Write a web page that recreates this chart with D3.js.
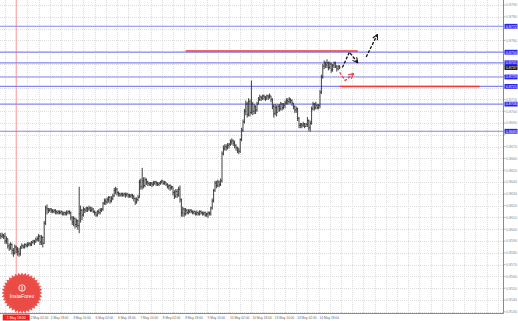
<!DOCTYPE html>
<html>
<head>
<meta charset="utf-8">
<script src="https://cdn.jsdelivr.net/npm/d3@7"></script>
<style>
  body { margin: 0; background: #fff; }
  svg { display: block; font-family: "Liberation Sans", Arial, sans-serif; }
</style>
</head>
<body>
<svg id="chart" width="518" height="321"></svg>
<script>
// EURGBP H1, bars from 1 May 07:00; open of each bar = previous close
var closes = [
  0.8594,0.8595,0.8594,0.8590,0.8592,0.8586,0.8584,0.8587,0.8582,0.8580,
  0.8585,0.8583,0.8581,0.8579,0.8584,0.8586,0.8585,0.8587,0.8586,0.8587,
  0.8588,0.8587,0.8589,0.8590,0.8589,0.8591,0.8592,0.8594,0.8589,0.8593,
  0.8588,0.8605,0.8618,0.8617,0.8616,0.8617,0.8616,0.8615,0.8616,0.8615,
  0.8614,0.8615,0.8614,0.8615,0.8613,0.8614,0.8613,0.8614,0.8615,0.8614,
  0.8610,0.8606,0.8609,0.8604,0.8607,0.8603,0.8613,0.8616,0.8612,0.8617,
  0.8616,0.8618,0.8617,0.8618,0.8616,0.8617,0.8615,0.8614,0.8612,0.8615,
  0.8614,0.8616,0.8617,0.8622,0.8624,0.8623,0.8625,0.8627,0.8624,0.8626,
  0.8628,0.8633,0.8634,0.8631,0.8630,0.8629,0.8630,0.8629,0.8630,0.8629,
  0.8630,0.8629,0.8628,0.8629,0.8628,0.8626,0.8623,0.8625,0.8627,0.8640,
  0.8636,0.8641,0.8637,0.8642,0.8640,0.8639,0.8638,0.8639,0.8638,0.8639,
  0.8640,0.8639,0.8638,0.8639,0.8640,0.8641,0.8639,0.8640,0.8638,0.8636,
  0.8637,0.8635,0.8636,0.8631,0.8628,0.8632,0.8629,0.8634,0.8625,0.8614,
  0.8617,0.8613,0.8616,0.8614,0.8615,0.8616,0.8615,0.8614,0.8615,0.8613,
  0.8614,0.8613,0.8615,0.8614,0.8613,0.8614,0.8612,0.8613,0.8614,0.8613,
  0.8618,0.8624,0.8633,0.8639,0.8637,0.8640,0.8638,0.8641,0.8664,0.8668,
  0.8670,0.8669,0.8671,0.8672,0.8674,0.8675,0.8673,0.8671,0.8669,0.8667,
  0.8666,0.8676,0.8684,0.8691,0.8700,0.8706,0.8697,0.8708,0.8699,0.8706,
  0.8700,0.8704,0.8701,0.8706,0.8710,0.8712,0.8711,0.8713,0.8712,0.8711,
  0.8713,0.8712,0.8713,0.8710,0.8704,0.8698,0.8703,0.8699,0.8704,0.8702,
  0.8706,0.8703,0.8705,0.8707,0.8709,0.8708,0.8710,0.8709,0.8707,0.8704,
  0.8701,0.8702,0.8694,0.8688,0.8689,0.8688,0.8689,0.8687,0.8689,0.8692,
  0.8686,0.8690,0.8702,0.8706,0.8703,0.8705,0.8703,0.8705,0.8716,0.8729,
  0.8738,0.8741,0.8739,0.8741,0.8737,0.8740,0.8735,0.8739,0.8741,0.8738,
  0.8736,0.8738,0.8737
];
var highs = [
  0.8597,0.8597,0.8596,0.8597,0.8594,0.8592,0.8588,0.8589,0.8588,0.8584,
  0.8587,0.8586,0.8585,0.8584,0.8586,0.8588,0.8587,0.8588,0.8588,0.8589,
  0.8589,0.8589,0.8590,0.8591,0.8591,0.8593,0.8594,0.8596,0.8595,0.8595,
  0.8594,0.8607,0.8620,0.8621,0.8618,0.8618,0.8618,0.8617,0.8617,0.8617,
  0.8616,0.8616,0.8616,0.8616,0.8615,0.8615,0.8615,0.8616,0.8616,0.8616,
  0.8615,0.8611,0.8611,0.8610,0.8609,0.8608,0.8636,0.8620,0.8617,0.8619,
  0.8618,0.8619,0.8619,0.8620,0.8619,0.8619,0.8618,0.8616,0.8615,0.8616,
  0.8617,0.8618,0.8618,0.8623,0.8626,0.8626,0.8627,0.8628,0.8628,0.8628,
  0.8630,0.8635,0.8636,0.8635,0.8632,0.8631,0.8631,0.8631,0.8631,0.8631,
  0.8631,0.8630,0.8630,0.8630,0.8630,0.8629,0.8627,0.8627,0.8629,0.8642,
  0.8643,0.8652,0.8644,0.8644,0.8643,0.8641,0.8640,0.8640,0.8640,0.8641,
  0.8641,0.8641,0.8640,0.8640,0.8641,0.8642,0.8641,0.8641,0.8640,0.8639,
  0.8638,0.8638,0.8637,0.8636,0.8633,0.8634,0.8634,0.8636,0.8637,0.8626,
  0.8619,0.8618,0.8618,0.8617,0.8617,0.8617,0.8617,0.8616,0.8616,0.8615,
  0.8616,0.8615,0.8616,0.8616,0.8615,0.8615,0.8615,0.8614,0.8615,0.8615,
  0.8619,0.8626,0.8634,0.8641,0.8641,0.8642,0.8641,0.8643,0.8666,0.8671,
  0.8672,0.8672,0.8673,0.8673,0.8676,0.8677,0.8676,0.8675,0.8672,0.8670,
  0.8669,0.8677,0.8686,0.8693,0.8702,0.8709,0.8708,0.8711,0.8710,0.8726,
  0.8708,0.8706,0.8705,0.8708,0.8712,0.8714,0.8713,0.8714,0.8714,0.8713,
  0.8714,0.8714,0.8715,0.8713,0.8711,0.8706,0.8706,0.8705,0.8706,0.8706,
  0.8708,0.8707,0.8707,0.8709,0.8711,0.8711,0.8712,0.8711,0.8710,0.8707,
  0.8705,0.8704,0.8703,0.8695,0.8690,0.8690,0.8691,0.8690,0.8690,0.8695,
  0.8693,0.8692,0.8704,0.8708,0.8707,0.8708,0.8706,0.8706,0.8718,0.8731,
  0.8740,0.8743,0.8742,0.8744,0.8742,0.8742,0.8741,0.8740,0.8742,0.8742,
  0.8739,0.8739,0.8739
];
var lows = [
  0.8592,0.8593,0.8592,0.8588,0.8588,0.8584,0.8582,0.8583,0.8579,0.8577,
  0.8579,0.8580,0.8578,0.8577,0.8578,0.8584,0.8584,0.8584,0.8585,0.8585,
  0.8586,0.8586,0.8586,0.8588,0.8587,0.8589,0.8590,0.8590,0.8587,0.8587,
  0.8585,0.8588,0.8604,0.8613,0.8614,0.8615,0.8614,0.8614,0.8614,0.8613,
  0.8613,0.8613,0.8613,0.8613,0.8612,0.8612,0.8612,0.8612,0.8613,0.8613,
  0.8608,0.8604,0.8603,0.8601,0.8602,0.8600,0.8597,0.8606,0.8608,0.8611,
  0.8614,0.8615,0.8615,0.8616,0.8615,0.8615,0.8614,0.8612,0.8611,0.8611,
  0.8613,0.8613,0.8615,0.8616,0.8621,0.8621,0.8622,0.8623,0.8622,0.8623,
  0.8625,0.8628,0.8630,0.8629,0.8628,0.8628,0.8628,0.8628,0.8628,0.8627,
  0.8628,0.8627,0.8627,0.8627,0.8626,0.8624,0.8621,0.8622,0.8624,0.8627,
  0.8634,0.8634,0.8635,0.8636,0.8638,0.8637,0.8637,0.8637,0.8636,0.8637,
  0.8638,0.8637,0.8637,0.8637,0.8638,0.8639,0.8638,0.8638,0.8637,0.8635,
  0.8634,0.8633,0.8634,0.8629,0.8626,0.8627,0.8627,0.8628,0.8623,0.8611,
  0.8611,0.8611,0.8612,0.8613,0.8613,0.8614,0.8614,0.8613,0.8613,0.8612,
  0.8612,0.8612,0.8612,0.8613,0.8612,0.8612,0.8611,0.8611,0.8610,0.8612,
  0.8612,0.8617,0.8623,0.8632,0.8635,0.8636,0.8636,0.8637,0.8640,0.8663,
  0.8667,0.8667,0.8668,0.8669,0.8671,0.8672,0.8671,0.8669,0.8667,0.8665,
  0.8664,0.8665,0.8675,0.8683,0.8690,0.8697,0.8695,0.8696,0.8696,0.8698,
  0.8697,0.8698,0.8698,0.8700,0.8706,0.8709,0.8709,0.8710,0.8710,0.8709,
  0.8710,0.8710,0.8711,0.8708,0.8702,0.8695,0.8697,0.8696,0.8700,0.8700,
  0.8701,0.8701,0.8702,0.8703,0.8706,0.8706,0.8707,0.8707,0.8705,0.8702,
  0.8699,0.8699,0.8692,0.8686,0.8686,0.8686,0.8687,0.8686,0.8687,0.8687,
  0.8684,0.8683,0.8689,0.8701,0.8701,0.8702,0.8702,0.8702,0.8703,0.8715,
  0.8728,0.8736,0.8737,0.8737,0.8735,0.8736,0.8733,0.8734,0.8737,0.8737,
  0.8734,0.8735,0.8736
];

// time axis labels, one every 16 bars starting at bar 3 (1 May 10:00)
var timeLabels = ["1 May 10:00","2 May 02:00","2 May 18:00","3 May 10:00","6 May 02:00",
  "6 May 18:00","7 May 10:00","8 May 02:00","8 May 18:00","9 May 10:00",
  "10 May 02:00","10 May 18:00","13 May 10:00","14 May 02:00","14 May 18:00"];
var priceTicks = [0.8790,0.8780,0.8770,0.8760,0.8750,0.8740,0.8730,0.8720,0.8710,
  0.8700,0.8690,0.8680,0.8670,0.8660,0.8650,0.8640,0.8630,0.8620,0.8610,0.8600,
  0.8590,0.8580,0.8570,0.8560,0.8550,0.8540,0.8530];

var blueLevels = [0.8772, 0.8750, 0.8741, 0.8729, 0.8721, 0.8706, 0.8683];
var lastPrice = 0.8737;
var vLineBar = 11, vLineLabel = "1 May 18:00";
// red horizontal segments [fromBar, toBar, price]
var redSegments = [[132, 255, 0.8751], [242, 342, 0.8721]];
// forecast arrows as [bar, price]
var blackPathA = [[244, 0.8737], [249, 0.8750], [255, 0.8741]];
var blackPathB = [[261, 0.8746], [269, 0.8765]];
var redPath = [[242, 0.8733], [246, 0.8726], [252, 0.8732]];

var plotR = 503.5, plotB = 313.5;
var svg = d3.select('#chart');

var x = d3.scaleLinear().domain([3, 227]).range([5, 318.6]);
var y = d3.scaleLinear().domain([0.8530, 0.8790]).range([311.8, 5]);

// grid
var grid = svg.append('g').attr('stroke', '#dcdcdc').attr('stroke-dasharray', '1,1');
grid.selectAll('line.h').data(priceTicks).enter().append('line')
  .attr('x1', 0).attr('x2', plotR)
  .attr('y1', function(d) { return Math.round(y(d)) + 0.5; })
  .attr('y2', function(d) { return Math.round(y(d)) + 0.5; });
var gridBars = d3.range(3, 360, 8);
grid.selectAll('line.v').data(gridBars).enter().append('line')
  .attr('x1', function(d) { return Math.round(x(d)) + 0.5; })
  .attr('x2', function(d) { return Math.round(x(d)) + 0.5; })
  .attr('y1', 0).attr('y2', plotB);

// vertical red line
svg.append('line')
  .attr('x1', x(vLineBar)).attr('x2', x(vLineBar))
  .attr('y1', 0).attr('y2', plotB)
  .attr('stroke', '#ff9a9a').attr('stroke-width', 1);

// blue levels
svg.selectAll('line.lvl').data(blueLevels).enter().append('line')
  .attr('x1', 0).attr('x2', plotR)
  .attr('y1', function(d) { return y(d); })
  .attr('y2', function(d) { return y(d); })
  .attr('stroke', '#8585f2').attr('stroke-width', 1.2);

// red segments
svg.selectAll('line.red').data(redSegments).enter().append('line')
  .attr('x1', function(d) { return x(d[0]); })
  .attr('x2', function(d) { return x(d[1]); })
  .attr('y1', function(d) { return y(d[2]); })
  .attr('y2', function(d) { return y(d[2]); })
  .attr('stroke', '#ee3a3a').attr('stroke-width', 1.5);

// OHLC bars
var bars = svg.append('g').attr('stroke', '#2a2a2a').attr('stroke-width', 0.9);
closes.forEach(function(c, i) {
  var o = i === 0 ? 0.8595 : closes[i - 1];
  var cx = x(i);
  bars.append('line').attr('x1', cx).attr('x2', cx)
    .attr('y1', y(highs[i])).attr('y2', y(lows[i]) + 0.5);
  bars.append('line').attr('x1', cx - 0.7).attr('x2', cx)
    .attr('y1', y(o)).attr('y2', y(o));
  bars.append('line').attr('x1', cx).attr('x2', cx + 0.7)
    .attr('y1', y(c)).attr('y2', y(c));
});

// arrows
var defs = svg.append('defs');
function marker(id, color) {
  defs.append('marker').attr('id', id)
    .attr('viewBox', '0 0 10 10').attr('refX', 9).attr('refY', 5)
    .attr('markerWidth', 5).attr('markerHeight', 5)
    .attr('orient', 'auto')
    .append('path').attr('d', 'M1,1 L9,5 L1,9')
    .attr('fill', 'none').attr('stroke', color).attr('stroke-width', 1.6);
}
marker('arB', '#111');
marker('arR', '#f23c3c');
var line = d3.line().x(function(d) { return x(d[0]); }).y(function(d) { return y(d[1]); });
[[blackPathA, '#111', 'arB'], [blackPathB, '#111', 'arB'], [redPath, '#f23c3c', 'arR']].forEach(function(a) {
  svg.append('path').attr('d', line(a[0]))
    .attr('fill', 'none').attr('stroke', a[1]).attr('stroke-width', 1.3)
    .attr('stroke-dasharray', '3,1.5')
    .attr('marker-end', 'url(#' + a[2] + ')');
});

// frame
svg.append('line').attr('x1', plotR).attr('x2', plotR).attr('y1', 0).attr('y2', plotB)
  .attr('stroke', '#8a8a8a');
svg.append('line').attr('x1', 0).attr('x2', plotR).attr('y1', plotB).attr('y2', plotB)
  .attr('stroke', '#8a8a8a');

// price axis labels (hidden where a level box covers them)
var boxed = blueLevels.concat([lastPrice]);
var freeTicks = priceTicks.filter(function(t) {
  return boxed.every(function(p) { return Math.abs(y(p) - y(t)) > 4.5; });
});
svg.append('g').attr('font-size', 3.6).attr('fill', '#8a8a8a')
  .selectAll('text').data(freeTicks).enter().append('text')
  .attr('x', 506).attr('y', function(d) { return y(d) + 1.3; })
  .text(function(d) { return d.toFixed(4); });
svg.selectAll('line.tk').data(priceTicks).enter().append('line')
  .attr('x1', plotR).attr('x2', plotR + 2)
  .attr('y1', function(d) { return y(d); }).attr('y2', function(d) { return y(d); })
  .attr('stroke', '#8a8a8a').attr('stroke-width', 0.6);

function priceBox(p, fill) {
  svg.append('rect').attr('x', 504.5).attr('y', y(p) - 2.4)
    .attr('width', 13).attr('height', 4.8).attr('fill', fill);
  svg.append('text').attr('x', 505.8).attr('y', y(p) + 1.3)
    .attr('font-size', 3.6).attr('fill', '#fff').text(p.toFixed(4));
}
blueLevels.forEach(function(p) { priceBox(p, '#2525f0'); });
priceBox(lastPrice, '#111');

// time axis labels (the first one sits under the red line's time box)
var boxL = x(vLineBar) - 13.5, boxR = x(vLineBar) + 13.5;
var shownLabels = timeLabels.map(function(t, i) { return { t: t, bar: 3 + i * 16 }; })
  .filter(function(d) { var lx = x(d.bar) + 1; return lx + 10 < boxL || lx + 10 > boxR; });
svg.append('g').attr('font-size', 3.2).attr('fill', '#666')
  .selectAll('text').data(shownLabels).enter().append('text')
  .attr('x', function(d) { return Math.max(x(d.bar) + 1, boxR + 1); })
  .attr('y', 318.8)
  .text(function(d) { return d.t; });
svg.append('rect').attr('x', boxL).attr('y', 314.5)
  .attr('width', boxR - boxL).attr('height', 6).attr('fill', '#ff1a1a');
svg.append('text').attr('x', x(vLineBar)).attr('y', 318.8)
  .attr('text-anchor', 'middle').attr('font-size', 3.4).attr('fill', '#fff')
  .text(vLineLabel);

// InstaForex seal
var seal = svg.append('g').attr('transform', 'translate(22,293)');
var pts = d3.range(0, 73).map(function(k) {
  return [k * Math.PI * 2 / 72, k % 2 ? 18 : 20.5];
});
seal.append('path').attr('d', d3.lineRadial()(pts) + 'Z')
  .attr('fill', '#e9463f').attr('opacity', 0.9);
seal.append('circle').attr('r', 17.5).attr('fill', '#ea4b44');
seal.append('circle').attr('cy', -5).attr('r', 3.2)
  .attr('fill', 'none').attr('stroke', '#fff').attr('stroke-width', 0.9);
seal.append('line').attr('x1', 0).attr('x2', 0).attr('y1', -7).attr('y2', -2.5)
  .attr('stroke', '#fff').attr('stroke-width', 0.9);
seal.append('text').attr('y', 5).attr('text-anchor', 'middle')
  .attr('font-size', 5.2).attr('fill', '#fff').text('InstaForex');
</script>
</body>
</html>
